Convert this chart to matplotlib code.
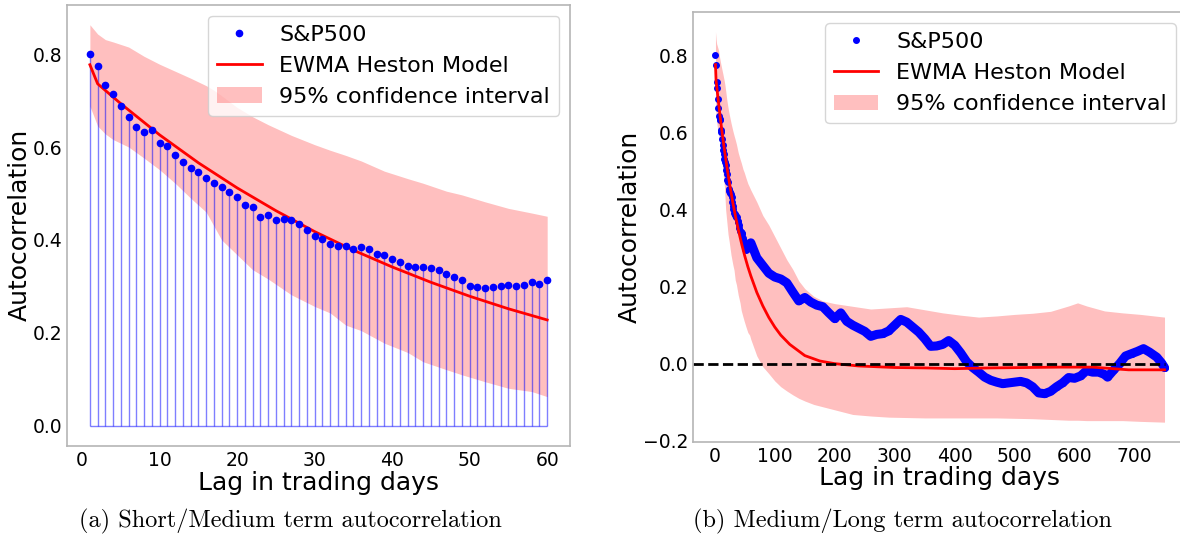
import numpy as np
import matplotlib
matplotlib.use("Agg")
import matplotlib.pyplot as plt

# --- short term (lags 1..60) ---
lags_short = np.arange(1, 61)
sp_short = [0.801, 0.775, 0.733, 0.715, 0.688, 0.665, 0.643, 0.633, 0.637, 0.608,
            0.602, 0.583, 0.568, 0.554, 0.546, 0.533, 0.523, 0.515, 0.504, 0.492,
            0.476, 0.472, 0.449, 0.454, 0.444, 0.445, 0.442, 0.434, 0.421, 0.409,
            0.403, 0.392, 0.388, 0.386, 0.381, 0.384, 0.380, 0.370, 0.368, 0.360,
            0.352, 0.344, 0.341, 0.341, 0.339, 0.336, 0.326, 0.320, 0.313, 0.301,
            0.299, 0.296, 0.299, 0.301, 0.304, 0.302, 0.304, 0.309, 0.306, 0.314]

model_lags_short = [1, 2, 5, 10, 15, 20, 25, 30, 35, 40, 45, 50, 55, 60]
model_short = [0.777, 0.736, 0.693, 0.626, 0.566, 0.512, 0.463, 0.418, 0.378,
               0.342, 0.309, 0.279, 0.252, 0.228]

band_lags_short = [1, 2, 3, 4, 6, 8, 10, 12, 14, 16, 17, 18, 20, 22, 24, 27, 30,
                   32, 34, 36, 39, 42, 44, 47, 49, 52, 55, 58, 60]
band_hi_short = [0.863, 0.843, 0.831, 0.826, 0.815, 0.795, 0.778, 0.763, 0.748,
                 0.732, 0.722, 0.710, 0.685, 0.665, 0.648, 0.625, 0.605, 0.593,
                 0.582, 0.570, 0.548, 0.532, 0.522, 0.505, 0.497, 0.482, 0.468,
                 0.458, 0.451]
band_lo_short = [0.688, 0.645, 0.628, 0.616, 0.600, 0.576, 0.551, 0.522, 0.490,
                 0.460, 0.430, 0.400, 0.368, 0.336, 0.316, 0.282, 0.257, 0.243,
                 0.217, 0.205, 0.178, 0.158, 0.138, 0.121, 0.110, 0.095, 0.081,
                 0.074, 0.063]

# --- long term continuation (lags > 60) ---
lags_long = [70, 80, 90, 100, 110, 120, 130, 140, 150, 160, 170, 180, 190, 200,
             210, 220, 230, 240, 250, 260, 270, 280, 290, 300, 310, 320, 330, 340,
             350, 360, 370, 380, 390, 400, 410, 420, 430, 440, 450, 460, 470, 480,
             490, 500, 510, 520, 530, 540, 550, 560, 570, 580, 590, 600, 610, 620,
             630, 640, 650, 655, 665, 675, 685, 695, 705, 715, 725, 737, 745, 750]
sp_long = [0.275, 0.255, 0.235, 0.225, 0.220, 0.210, 0.186, 0.163, 0.172, 0.160,
           0.152, 0.148, 0.132, 0.117, 0.132, 0.110, 0.100, 0.092, 0.084, 0.071,
           0.076, 0.078, 0.085, 0.100, 0.115, 0.108, 0.095, 0.082, 0.065, 0.045,
           0.046, 0.050, 0.060, 0.048, 0.028, 0.005, -0.010, -0.022, -0.035, -0.043,
           -0.048, -0.052, -0.050, -0.048, -0.046, -0.050, -0.060, -0.076, -0.078, -0.072,
           -0.060, -0.050, -0.036, -0.038, -0.032, -0.018, -0.022, -0.022, -0.028, -0.035,
           -0.017, 0.000, 0.020, 0.026, 0.032, 0.039, 0.030, 0.017, 0.002, -0.010]

model_lags_long = [70, 80, 90, 100, 110, 125, 150, 175, 200, 240, 300, 350, 400,
                   460, 520, 575, 630, 690, 750]
model_long = [0.185, 0.150, 0.120, 0.095, 0.074, 0.050, 0.021, 0.007, 0.000,
              -0.006, -0.010, -0.011, -0.013, -0.011, -0.010, -0.009, -0.009,
              -0.016, -0.016]

band_lags_long = [70, 80, 90, 100, 110, 120, 130, 140, 150, 165, 180, 200, 230, 260,
                  290, 320, 350, 380, 410, 440, 470, 500, 530, 560, 590, 605, 620,
                  650, 680, 710, 750]
band_hi_long = [0.420, 0.385, 0.360, 0.330, 0.300, 0.270, 0.245, 0.215, 0.195, 0.175,
                0.163, 0.156, 0.149, 0.142, 0.145, 0.148, 0.140, 0.132, 0.126, 0.121,
                0.124, 0.128, 0.131, 0.136, 0.150, 0.158, 0.150, 0.137, 0.132, 0.128,
                0.121]
band_lo_long = [0.020, -0.008, -0.026, -0.045, -0.060, -0.071, -0.081, -0.090, -0.097,
                -0.106, -0.112, -0.120, -0.132, -0.136, -0.139, -0.140, -0.141, -0.141,
                -0.141, -0.141, -0.141, -0.142, -0.143, -0.145, -0.147, -0.147, -0.148,
                -0.148, -0.148, -0.150, -0.152]

captions = ["(a) Short/Medium term autocorrelation",
            "(b) Medium/Long term autocorrelation"]

SPINE = "#b5b5b5"


def style_axes(ax):
    for s in ax.spines.values():
        s.set_color(SPINE)
        s.set_linewidth(1.2)
    ax.tick_params(length=0, labelsize=13.5, pad=3.5)
    ax.set_xlabel("Lag in trading days", fontsize=18, labelpad=0.5)
    ax.set_ylabel("Autocorrelation", fontsize=18, labelpad=0.5)


fig = plt.figure(figsize=(11.8, 5.38), dpi=100)

# left panel
ax1 = fig.add_axes([0.0568, 0.171, 0.4263, 0.8203])
ax1.fill_between(band_lags_short, band_lo_short, band_hi_short, color="red",
                 alpha=0.25, lw=0, label="95% confidence interval")
ax1.vlines(lags_short, 0, sp_short, color="blue", alpha=0.5, lw=1)
ax1.hlines(0, lags_short[0], lags_short[-1], color="blue", alpha=0.5, lw=1)
ax1.plot(model_lags_short, model_short, color="red", lw=2, label="EWMA Heston Model")
ax1.plot(lags_short, sp_short, "o", color="blue", ms=4.5, label="S&P500")
h, l = ax1.get_legend_handles_labels()
style_axes(ax1)
ax1.legend([h[2], h[1], h[0]], [l[2], l[1], l[0]], loc="upper right", fontsize=16)

# right panel
lags_all = np.concatenate([lags_short, lags_long])
sp_all = np.concatenate([sp_short, sp_long])
m_lags = np.concatenate([model_lags_short, model_lags_long])
m_vals = np.concatenate([model_short, model_long])
b_lags = np.concatenate([band_lags_short, band_lags_long])
b_lo = np.concatenate([band_lo_short, band_lo_long])
b_hi = np.concatenate([band_hi_short, band_hi_long])

ax2 = fig.add_axes([0.5873, 0.179, 0.4186, 0.7987])
ax2.fill_between(b_lags, b_lo, b_hi, color="red", alpha=0.25, lw=0,
                 label="95% confidence interval")
ax2.plot(lags_all[59:], sp_all[59:], color="blue", lw=6.5, solid_capstyle="round",
         solid_joinstyle="round")
ax2.plot(lags_all, sp_all, "o", color="blue", ms=4, label="S&P500")
ax2.plot(m_lags, m_vals, color="red", lw=2, label="EWMA Heston Model")
xl = ax2.get_xlim()
ax2.hlines(0, xl[0], lags_all[-1], color="black", lw=2, linestyles="--")
ax2.set_xlim(xl)
ax2.set_xticks(np.arange(0, 701, 100))
h, l = ax2.get_legend_handles_labels()
style_axes(ax2)
ax2.legend([h[1], h[2], h[0]], [l[1], l[2], l[0]], loc="upper right", fontsize=16)

fig.text(0.246, 0.031, captions[0], ha="center", va="center", fontsize=17.5,
         family="cmr10")
fig.text(0.765, 0.031, captions[1], ha="center", va="center", fontsize=17.5,
         family="cmr10")

fig.savefig("out.png", dpi=100)
